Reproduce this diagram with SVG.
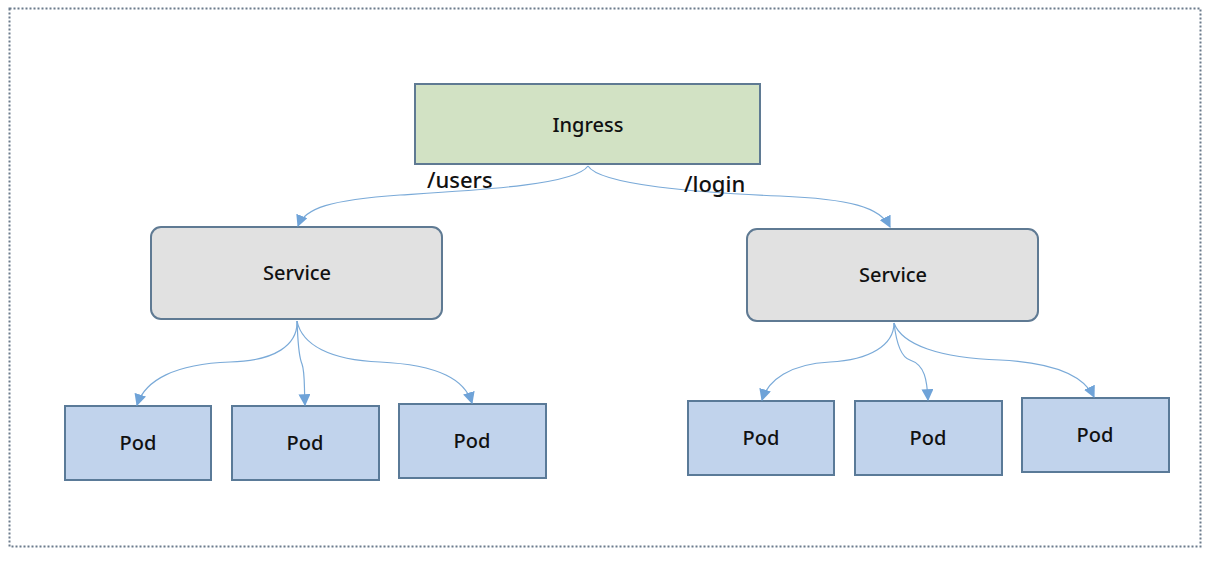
<svg xmlns="http://www.w3.org/2000/svg" width="1211" height="561" viewBox="0 0 1211 561">
<defs>
<marker id="arr" viewBox="0 0 10 10" refX="9" refY="5" markerWidth="12" markerHeight="12" markerUnits="userSpaceOnUse" orient="auto">
<path d="M0,0 L10,5 L0,10 z" fill="#6fa3d8"/>
</marker>
<style>
.lbl{font-family:"Noto Sans","Liberation Sans",sans-serif;font-size:20px;font-weight:500;fill:#111;text-anchor:middle;dominant-baseline:central}
.path{font-family:"Noto Sans","Liberation Sans",sans-serif;font-size:22px;font-weight:500;fill:#111}
.ing{fill:#d2e2c4;stroke:#5f7a93;stroke-width:2}
.svc{fill:#e1e1e1;stroke:#5f7a93;stroke-width:2}
.pod{fill:#c1d3ec;stroke:#5a7a98;stroke-width:2}
.edge{fill:none;stroke:#7aaad8;stroke-width:1.2;marker-end:url(#arr)}
</style>
</defs>
<rect x="0" y="0" width="1211" height="561" fill="#ffffff"/>
<rect x="9.5" y="8.5" width="1191" height="538" fill="none" stroke="#6b7b8c" stroke-width="2" stroke-dasharray="2,2"/>
<g id="ingress"><rect class="ing" x="415" y="84" width="345" height="80"/><text class="lbl" x="588" y="124">Ingress</text></g>
<g id="service-left"><rect class="svc" x="151" y="227" width="291" height="92" rx="10"/><text class="lbl" x="297" y="272">Service</text></g>
<g id="service-right"><rect class="svc" x="747" y="229" width="291" height="92" rx="10"/><text class="lbl" x="893" y="274">Service</text></g>
<g id="pod-l1"><rect class="pod" x="65" y="406" width="146" height="74"/><text class="lbl" x="138" y="442">Pod</text></g>
<g id="pod-l2"><rect class="pod" x="232" y="406" width="147" height="74"/><text class="lbl" x="305" y="442">Pod</text></g>
<g id="pod-l3"><rect class="pod" x="399" y="404" width="147" height="74"/><text class="lbl" x="472" y="440">Pod</text></g>
<g id="pod-r1"><rect class="pod" x="688" y="401" width="146" height="74"/><text class="lbl" x="761" y="437">Pod</text></g>
<g id="pod-r2"><rect class="pod" x="855" y="401" width="147" height="74"/><text class="lbl" x="928" y="437">Pod</text></g>
<g id="pod-r3"><rect class="pod" x="1022" y="398" width="147" height="74"/><text class="lbl" x="1095" y="434">Pod</text></g>
<g id="connectors">
<path class="edge" d="M588,166 C575,185 480,190 400,195 C330,200 305,208 298,226"/>
<path class="edge" d="M588,166 C600,185 700,193 780,196 C850,199 880,207 890,227"/>
<path class="edge" d="M297,321 C298,345 275,361 230,362 C175,364 145,380 137,405"/>
<path class="edge" d="M297,321 C298,340 298,355 302,364 C305,372 304,385 305,405"/>
<path class="edge" d="M297,321 C302,345 330,360 380,362 C440,365 465,380 472,403"/>
<path class="edge" d="M894,323 C894,345 870,360 830,362 C790,364 768,380 762,400"/>
<path class="edge" d="M894,323 C896,340 900,357 910,360 C925,365 927,380 928,400"/>
<path class="edge" d="M894,323 C902,345 940,358 1000,360 C1060,363 1085,378 1094,397"/>
</g>
<text class="path" x="427" y="188">/users</text>
<text class="path" x="684" y="192">/login</text>
</svg>
